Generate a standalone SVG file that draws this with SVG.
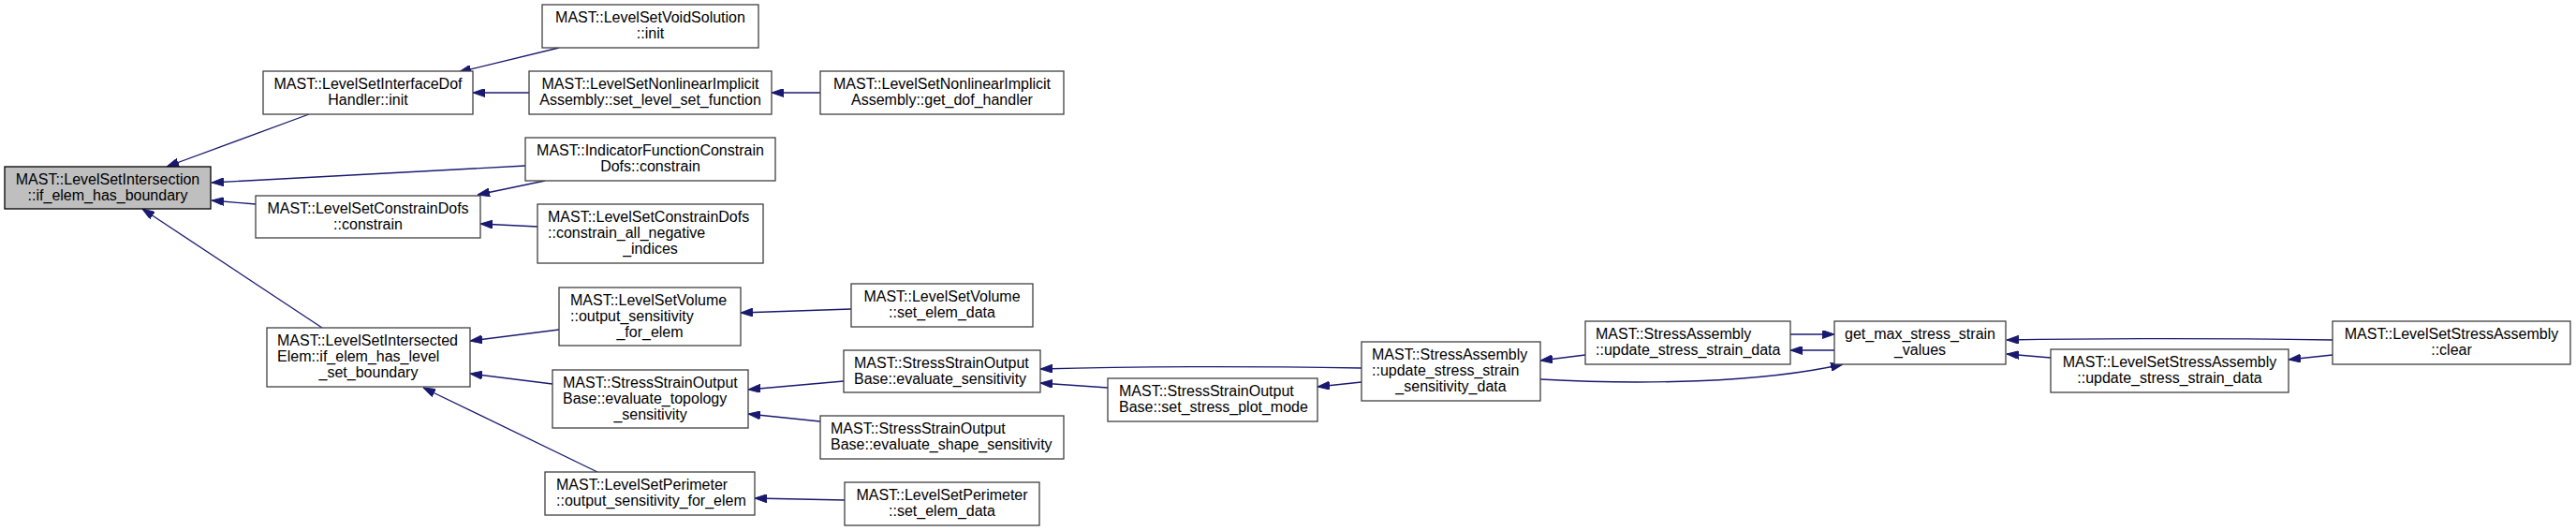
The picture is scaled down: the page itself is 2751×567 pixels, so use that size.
<svg xmlns="http://www.w3.org/2000/svg" width="2751" height="567" viewBox="0 0 2751 567">
<style>
.n rect{fill:#ffffff;stroke:#404040;stroke-width:1.3}
.n.root rect{fill:#bfbfbf;stroke:#000000}
.n text{font-family:"Liberation Sans",Arial,Helvetica,sans-serif;font-size:16px;fill:#000000}
.c{text-anchor:middle}
.e path{fill:none;stroke:#191970;stroke-width:1.3;marker-end:url(#ah)}
</style>
<defs>
<marker id="ah" viewBox="0 0 13 9" refX="13" refY="4.5" markerWidth="13" markerHeight="9" markerUnits="userSpaceOnUse" orient="auto">
<path d="M0,0 L13,4.5 L0,9 z" fill="#191970" stroke="#191970" stroke-width="1"/>
</marker>
</defs>
<rect x="0" y="0" width="2751" height="567" fill="#ffffff"/>
<g id="edges" class="e">
<path d="M330,122 L178,178"/>
<path d="M561,177 L226,195"/>
<path d="M273,218 L226,214"/>
<path d="M344,350 L152,223"/>
<path d="M597,51 L490,77"/>
<path d="M565,99 L505,99"/>
<path d="M876,99 L824,99"/>
<path d="M582,193 L510,208"/>
<path d="M574,242 L513,239"/>
<path d="M597,352 L502,364"/>
<path d="M590,410 L502,399"/>
<path d="M638,504 L452,414"/>
<path d="M909,330 L791,334"/>
<path d="M901,407 L799,416"/>
<path d="M876,450 L799,442"/>
<path d="M902,534 L806,532"/>
<path d="M1454,393 C1330,391 1220,391 1111,394"/>
<path d="M1183,414 L1111,409"/>
<path d="M1454,408 L1407,413"/>
<path d="M1693,379 L1645,385"/>
<path d="M1645,405 C1750,411 1880,409 1968,389"/>
<path d="M1912,357 L1959,357"/>
<path d="M1959,374 L1912,374"/>
<path d="M2491,363 C2360,361 2260,361 2143,363"/>
<path d="M2190,382 L2143,378"/>
<path d="M2491,379 L2444,384"/>
</g>
<g id="n0" class="n root"><rect x="5" y="178" width="220" height="45"/><text class="c" x="115" y="196.5">MAST::LevelSetIntersection</text><text class="c" x="115" y="213.5">::if_elem_has_boundary</text></g>
<g id="n1" class="n"><rect x="281" y="76" width="224" height="46"/><text class="c" x="393" y="94.5">MAST::LevelSetInterfaceDof</text><text class="c" x="393" y="111.5">Handler::init</text></g>
<g id="n2" class="n"><rect x="273" y="209" width="240" height="45"/><text class="c" x="393" y="227.5">MAST::LevelSetConstrainDofs</text><text class="c" x="393" y="244.5">::constrain</text></g>
<g id="n3" class="n"><rect x="285" y="350" width="217" height="63"/><text x="296" y="369">MAST::LevelSetIntersected</text><text x="296" y="386">Elem::if_elem_has_level</text><text class="c" x="393.5" y="403">_set_boundary</text></g>
<g id="n4" class="n"><rect x="579" y="5" width="231" height="46"/><text class="c" x="694.5" y="23.5">MAST::LevelSetVoidSolution</text><text class="c" x="694.5" y="40.5">::init</text></g>
<g id="n5" class="n"><rect x="565" y="76" width="259" height="46"/><text class="c" x="694.5" y="94.5">MAST::LevelSetNonlinearImplicit</text><text class="c" x="694.5" y="111.5">Assembly::set_level_set_function</text></g>
<g id="n6" class="n"><rect x="876" y="76" width="260" height="46"/><text class="c" x="1006" y="94.5">MAST::LevelSetNonlinearImplicit</text><text class="c" x="1006" y="111.5">Assembly::get_dof_handler</text></g>
<g id="n7" class="n"><rect x="561" y="147" width="267" height="46"/><text class="c" x="694.5" y="165.5">MAST::IndicatorFunctionConstrain</text><text class="c" x="694.5" y="182.5">Dofs::constrain</text></g>
<g id="n8" class="n"><rect x="574" y="218" width="241" height="63"/><text x="585" y="237">MAST::LevelSetConstrainDofs</text><text x="585" y="254">::constrain_all_negative</text><text class="c" x="694.5" y="271">_indices</text></g>
<g id="n9" class="n"><rect x="597" y="307" width="194" height="62"/><text x="609" y="326">MAST::LevelSetVolume</text><text x="609" y="343">::output_sensitivity</text><text class="c" x="694" y="360">_for_elem</text></g>
<g id="n10" class="n"><rect x="909" y="303" width="194" height="46"/><text class="c" x="1006" y="321.5">MAST::LevelSetVolume</text><text class="c" x="1006" y="338.5">::set_elem_data</text></g>
<g id="n11" class="n"><rect x="590" y="395" width="209" height="62"/><text x="601" y="414">MAST::StressStrainOutput</text><text x="601" y="431">Base::evaluate_topology</text><text class="c" x="694.5" y="448">_sensitivity</text></g>
<g id="n12" class="n"><rect x="901" y="374" width="210" height="45"/><text x="912" y="392.5">MAST::StressStrainOutput</text><text x="912" y="409.5">Base::evaluate_sensitivity</text></g>
<g id="n13" class="n"><rect x="876" y="444" width="260" height="46"/><text x="887" y="462.5">MAST::StressStrainOutput</text><text x="887" y="479.5">Base::evaluate_shape_sensitivity</text></g>
<g id="n14" class="n"><rect x="582" y="504" width="224" height="46"/><text x="594" y="522.5">MAST::LevelSetPerimeter</text><text x="594" y="539.5">::output_sensitivity_for_elem</text></g>
<g id="n15" class="n"><rect x="902" y="515" width="208" height="46"/><text class="c" x="1006" y="533.5">MAST::LevelSetPerimeter</text><text class="c" x="1006" y="550.5">::set_elem_data</text></g>
<g id="n16" class="n"><rect x="1183" y="404" width="224" height="46"/><text x="1195" y="422.5">MAST::StressStrainOutput</text><text x="1195" y="439.5">Base::set_stress_plot_mode</text></g>
<g id="n17" class="n"><rect x="1454" y="365" width="191" height="63"/><text x="1465" y="384">MAST::StressAssembly</text><text x="1465" y="401">::update_stress_strain</text><text class="c" x="1549.5" y="418">_sensitivity_data</text></g>
<g id="n18" class="n"><rect x="1693" y="343" width="219" height="46"/><text x="1704" y="361.5">MAST::StressAssembly</text><text x="1704" y="378.5">::update_stress_strain_data</text></g>
<g id="n19" class="n"><rect x="1959" y="343" width="183" height="46"/><text class="c" x="2050.5" y="361.5">get_max_stress_strain</text><text class="c" x="2050.5" y="378.5">_values</text></g>
<g id="n20" class="n"><rect x="2190" y="373" width="254" height="46"/><text class="c" x="2317" y="391.5">MAST::LevelSetStressAssembly</text><text class="c" x="2317" y="408.5">::update_stress_strain_data</text></g>
<g id="n21" class="n"><rect x="2491" y="343" width="254" height="46"/><text class="c" x="2618" y="361.5">MAST::LevelSetStressAssembly</text><text class="c" x="2618" y="378.5">::clear</text></g>
</svg>
